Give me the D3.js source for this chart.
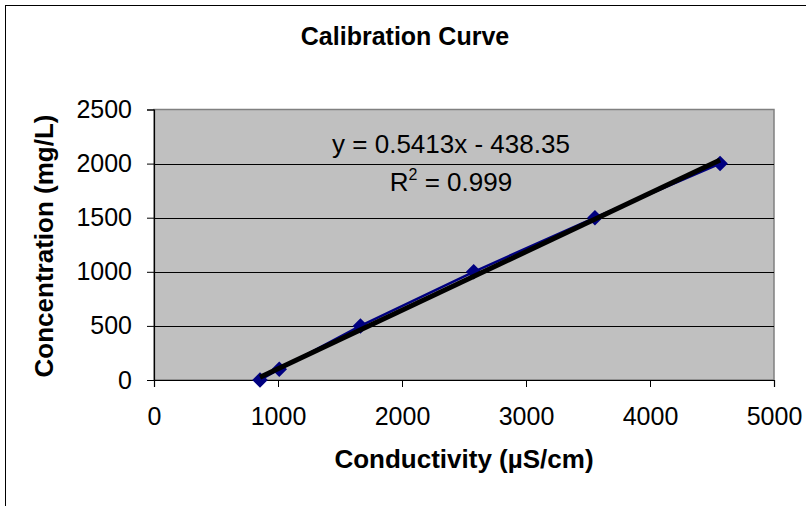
<!DOCTYPE html>
<html><head><meta charset="utf-8">
<script src="https://cdn.jsdelivr.net/npm/d3@7"></script>
<style>body{margin:0;background:#fff}svg{display:block}text{font-family:Arial,"Liberation Sans",sans-serif;fill:#000}</style>
</head><body><svg id="c" width="806" height="506"></svg>
<script>
const conductivity = [855, 1010, 1665, 2578, 3556, 4565];
const concentration = [0, 100, 500, 1000, 1500, 2000];
const xTicks = [0, 1000, 2000, 3000, 4000, 5000];
const yTicks = [0, 500, 1000, 1500, 2000, 2500];
const trendSlope = [0.5413];
const trendIntercept = [-438.35];
const equationText = ["y = 0.5413x - 438.35"];
const r2Text = ["0.999"];
const chartTitle = "Calibration Curve";
const xTitle = "Conductivity (µS/cm)";
const yTitle = "Concentration (mg/L)";

const svg = d3.select("#c");
const L = 154, R = 774, T = 109.5, B = 380;
const x = d3.scaleLinear().domain([0, 5000]).range([L, R]);
const y = d3.scaleLinear().domain([0, 2500]).range([B, T]);
const FONT = "Arial, 'Liberation Sans', sans-serif";

// chart border
svg.append("rect").attr("x", 5.5).attr("y", 5.5).attr("width", 830).attr("height", 540)
  .attr("fill", "#fff").attr("stroke", "#000").attr("stroke-width", 1);

// plot area
svg.append("rect").attr("x", L).attr("y", T).attr("width", R - L).attr("height", B - T)
  .attr("fill", "#c0c0c0").attr("stroke", "#808080").attr("stroke-width", 1.5);

// gridlines
svg.append("g").selectAll("line").data(yTicks.filter(d => d > 0 && d < 2500)).join("line")
  .attr("x1", L).attr("x2", R).attr("y1", d => Math.round(y(d)) + 0.5).attr("y2", d => Math.round(y(d)) + 0.5)
  .attr("stroke", "#000").attr("stroke-width", 1);

// axes
const xAxis = d3.axisBottom(x).tickValues(xTicks).tickSize(7).tickPadding(20).tickFormat(d3.format("d"));
const gx = svg.append("g").attr("transform", `translate(0,${B})`).call(xAxis);
gx.select(".domain").attr("stroke", "#000").attr("stroke-width", 1.2);
gx.selectAll(".tick line").attr("stroke", "#000");
gx.selectAll("text").attr("font-size", 25).attr("fill", "#000").attr("font-family", FONT);

const yAxis = d3.axisLeft(y).tickValues(yTicks).tickSize(7).tickPadding(15).tickFormat(d3.format("d"));
const gy = svg.append("g").attr("transform", `translate(${L},0)`).call(yAxis);
gy.select(".domain").attr("stroke", "#000").attr("stroke-width", 1.2);
gy.selectAll(".tick line").attr("stroke", "#000");
gy.selectAll("text").attr("font-size", 25).attr("fill", "#000").attr("font-family", FONT);

// data line
const pts = conductivity.map((c, i) => [c, concentration[i]]);
svg.append("path").datum(pts)
  .attr("d", d3.line().x(d => x(d[0])).y(d => y(d[1])))
  .attr("fill", "none").attr("stroke", "#000080").attr("stroke-width", 2.5);

// markers
svg.append("g").selectAll("path").data(pts).join("path")
  .attr("d", d3.symbol().type(d3.symbolSquare).size(120))
  .attr("transform", d => `translate(${x(d[0])},${y(d[1])}) rotate(45)`)
  .attr("fill", "#000080");

// trendline
const x0 = d3.min(conductivity), x1 = d3.max(conductivity);
svg.append("line")
  .attr("x1", x(x0)).attr("y1", y(trendSlope[0] * x0 + trendIntercept[0]))
  .attr("x2", x(x1)).attr("y2", y(trendSlope[0] * x1 + trendIntercept[0]))
  .attr("stroke", "#000").attr("stroke-width", 5);

// equation
svg.append("text").attr("x", 451).attr("y", 153).attr("text-anchor", "middle")
  .attr("font-size", 26).text(equationText[0]);
const r2 = svg.append("text").attr("x", 451).attr("y", 191).attr("text-anchor", "middle").attr("font-size", 26);
r2.append("tspan").text("R");
r2.append("tspan").attr("font-size", 16).attr("dy", -11).text("2");
r2.append("tspan").attr("dy", 11).text(" = " + r2Text[0]);

// titles
svg.append("text").attr("x", 405).attr("y", 45).attr("text-anchor", "middle")
  .attr("font-size", 25).attr("font-weight", "bold").text(chartTitle);
svg.append("text").attr("x", 464).attr("y", 468).attr("text-anchor", "middle")
  .attr("font-size", 26).attr("font-weight", "bold").text(xTitle);
svg.append("text").attr("transform", `translate(53,246) rotate(-90)`).attr("text-anchor", "middle")
  .attr("font-size", 26).attr("font-weight", "bold").text(yTitle);
</script></body></html>
